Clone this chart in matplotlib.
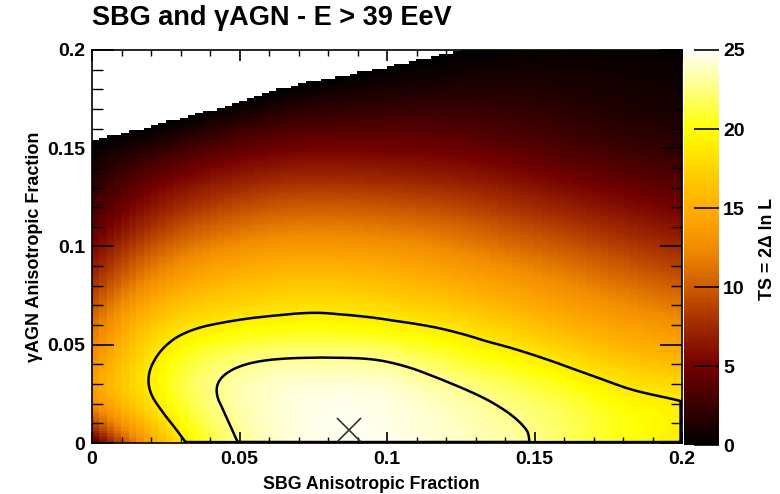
import numpy as np
import matplotlib
matplotlib.use('Agg')
import matplotlib.pyplot as plt
import matplotlib.tri as mtri
from matplotlib.colors import LinearSegmentedColormap
from matplotlib.ticker import MultipleLocator, FuncFormatter

plt.rcParams['font.family'] = ['Liberation Sans', 'DejaVu Sans']
plt.rcParams['font.weight'] = 'bold'

# --- data -----------------------------------------------------------------
sbg_fraction = [0.00, 0.02, 0.04, 0.06, 0.08, 0.10, 0.12, 0.14, 0.16, 0.18, 0.20]
agn_fraction = [0.00, 0.02, 0.04, 0.06, 0.08, 0.10, 0.12, 0.14, 0.16, 0.18, 0.20]
# TS values, one row per gamma-AGN fraction (rows) across SBG fraction (columns)
ts_agn_000 = [3.0, 14.0, 21.0, 23.8, 24.7, 24.7, 24.0, 23.2, 21.8, 20.2, 18.9]
ts_agn_002 = [12.5, 18.3, 22.3, 24.0, 24.6, 24.4, 23.6, 22.5, 21.3, 19.8, 18.9]
ts_agn_004 = [13.0, 18.7, 21.8, 23.0, 23.2, 22.9, 21.6, 20.3, 18.7, 17.0, 15.9]
ts_agn_006 = [11.0, 16.5, 18.8, 19.6, 19.8, 19.3, 18.4, 17.0, 15.4, 14.0, 12.8]
ts_agn_008 = [8.0, 13.0, 15.5, 16.5, 16.7, 16.2, 15.2, 14.0, 12.6, 11.2, 10.0]
ts_agn_010 = [5.2, 9.5, 12.0, 13.2, 13.4, 13.0, 12.2, 11.0, 9.8, 8.5, 7.3]
ts_agn_012 = [2.8, 6.3, 8.5, 9.7, 10.0, 9.7, 9.1, 8.1, 7.0, 5.9, 4.9]
ts_agn_014 = [1.0, 3.4, 5.2, 6.3, 6.6, 6.4, 6.0, 5.3, 4.4, 3.6, 2.9]
ts_agn_016 = [-0.6, 0.1, 1.6, 2.9, 3.5, 3.6, 3.5, 3.1, 2.5, 1.9, 1.4]
ts_agn_018 = [-2.0, -1.8, -1.6, -0.3, 0.6, 1.1, 1.4, 1.5, 1.3, 1.0, 0.8]
ts_agn_020 = [-3.5, -3.3, -3.0, -2.3, -1.4, -0.8, -0.15, 0.15, 0.3, 0.3, 0.2]

contour_levels = [18.8, 22.7]
best_fit_sbg = 0.087
best_fit_agn = 0.0065
cbar_ticks = [0, 5, 10, 15, 20, 25]
n_bins_x = 80
n_bins_y = 160

ts_table = np.array([ts_agn_000, ts_agn_002, ts_agn_004, ts_agn_006, ts_agn_008,
                     ts_agn_010, ts_agn_012, ts_agn_014, ts_agn_016, ts_agn_018,
                     ts_agn_020])

# --- colormap (black body like) --------------------------------------------
cmap = LinearSegmentedColormap.from_list('bb', [
    (0.00, (0.00, 0.00, 0.00)),
    (0.20, (0.45, 0.00, 0.00)),
    (0.30, (0.63, 0.16, 0.00)),
    (0.40, (0.80, 0.36, 0.00)),
    (0.50, (0.95, 0.55, 0.00)),
    (0.60, (1.00, 0.68, 0.00)),
    (0.70, (1.00, 0.83, 0.00)),
    (0.80, (1.00, 1.00, 0.00)),
    (0.90, (1.00, 1.00, 0.50)),
    (1.00, (1.00, 1.00, 0.98)),
])
cmap.set_under('white')

# --- smooth surface via matplotlib's triangulation interpolator ------------
gx, gy = np.meshgrid(sbg_fraction, agn_fraction)
tri = mtri.Triangulation(gx.ravel(), gy.ravel())
interp = mtri.CubicTriInterpolator(tri, ts_table.ravel(), kind='min_E')

x0, x1 = sbg_fraction[0], sbg_fraction[-1]
y0, y1 = agn_fraction[0], agn_fraction[-1]
# binned histogram-like image (bin centres)
bx = x0 + (np.arange(n_bins_x) + 0.5) * (x1 - x0) / n_bins_x
by = y0 + (np.arange(n_bins_y) + 0.5) * (y1 - y0) / n_bins_y
BX, BY = np.meshgrid(bx, by)
BZ = np.asarray(interp(BX, BY))
# fine field for contours
fx = np.linspace(x0, x1, 401)
fy = np.linspace(y0, y1, 401)
FX, FY = np.meshgrid(fx, fy)
FZ = np.asarray(interp(FX, FY))

fig = plt.figure(figsize=(7.8, 4.94), dpi=100)
ax = fig.add_axes([92 / 780, 1 - 443 / 494, 590 / 780, 393 / 494])
cax = fig.add_axes([684 / 780, 1 - 445 / 494, 35 / 780, 395 / 494])

im = ax.imshow(BZ, origin='lower', extent=[x0, x1, y0, y1],
               cmap=cmap, vmin=0, vmax=25, aspect='auto', interpolation='nearest')

# contours closed along the lower and right borders
FC = FZ.copy()
FC[0, :] = -10
FC[:, -1] = -10
ax.contour(FX, FY, FC, levels=contour_levels, colors='black', linewidths=1.8)

ax.plot([best_fit_sbg], [best_fit_agn], marker='x', color='#333333',
        markersize=17, markeredgewidth=1.2, linestyle='none')

ax.set_xlim(x0, x1)
ax.set_ylim(y0, y1)

fmt = FuncFormatter(lambda v, p: ('%g' % round(v, 3)))
ax.xaxis.set_major_locator(MultipleLocator(0.05))
ax.xaxis.set_minor_locator(MultipleLocator(0.01))
ax.yaxis.set_major_locator(MultipleLocator(0.05))
ax.yaxis.set_minor_locator(MultipleLocator(0.01))
ax.xaxis.set_major_formatter(fmt)
ax.yaxis.set_major_formatter(fmt)
ax.tick_params(axis='x', which='major', direction='in', length=8, width=1.2,
               top=True, labelsize=14, pad=6)
ax.tick_params(axis='x', which='minor', direction='in', length=4, width=1.0, top=True)
ax.tick_params(axis='y', which='major', direction='in', length=16, width=1.2,
               right=True, labelsize=14, pad=5)
ax.tick_params(axis='y', which='minor', direction='in', length=8, width=1.0, right=True)
for lab in ax.get_xticklabels() + ax.get_yticklabels():
    lab.set_fontweight('bold')
for s in ax.spines.values():
    s.set_linewidth(1.2)

ax.set_xlabel('SBG Anisotropic Fraction', fontsize=12.8, fontweight='bold')
ax.xaxis.set_label_coords(0.473, -0.085)
ax.set_ylabel('γAGN Anisotropic Fraction', fontsize=13, fontweight='bold')
ax.yaxis.set_label_coords(-0.083, 0.5)

cb = fig.colorbar(im, cax=cax, ticks=cbar_ticks, extend='neither')
cb.outline.set_visible(False)
cax.tick_params(direction='in', length=18, width=1.2, labelsize=14, pad=3,
                right=True, left=False)
for lab in cax.get_yticklabels():
    lab.set_fontweight('bold')
cax.yaxis.set_minor_locator(plt.NullLocator())
fig.text(768 / 780, 0.5 - 2 / 494, 'TS = 2Δ ln L', rotation=90, ha='center',
         va='center', fontsize=12.8, fontweight='bold')

fig.text(92 / 780, 1 - 25 / 494, 'SBG and γAGN - E > 39 EeV', ha='left',
         va='baseline', fontsize=19.5, fontweight='bold')

fig.savefig('out.png', dpi=100)
